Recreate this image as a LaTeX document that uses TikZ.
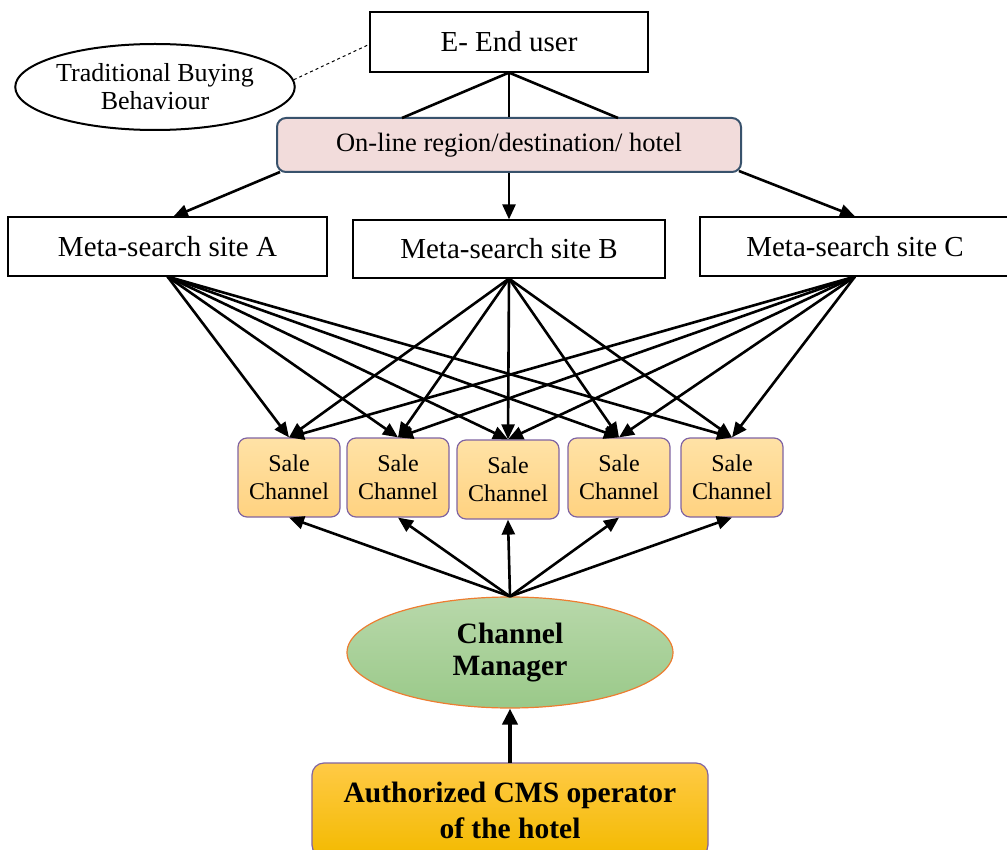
\documentclass[tikz,border=0pt]{standalone}
\usepackage{fontspec}
\setmainfont{Liberation Serif}
\usetikzlibrary{arrows.meta,shapes.geometric}
\definecolor{pinkfill}{RGB}{242,220,219}
\definecolor{pinkdraw}{RGB}{56,82,108}
\definecolor{salefillT}{RGB}{255,226,166}
\definecolor{salefillB}{RGB}{255,210,128}
\definecolor{purpledraw}{RGB}{128,100,162}
\definecolor{cmT}{RGB}{184,216,170}
\definecolor{cmB}{RGB}{154,201,137}
\definecolor{cmdraw}{RGB}{237,125,49}
\definecolor{auT}{RGB}{255,202,70}
\definecolor{auB}{RGB}{243,186,0}
\tikzset{
  plainbox/.style={draw=black,line width=1.2pt,fill=white,inner sep=0pt,align=center},
  salebox/.style={draw=purpledraw,line width=1.2pt,rounded corners=9pt,top color=salefillT,bottom color=salefillB,
    minimum width=102pt,minimum height=79pt,inner sep=0pt,align=center,font=\fontsize{24}{28}\selectfont},
  conn/.style={line width=2.6pt,-{Triangle[length=15pt,width=13pt]}},
  link/.style={line width=2.6pt},
}
\begin{document}
\begin{tikzpicture}[x=1pt,y=-1pt]
\useasboundingbox (0,0) rectangle (1007,850);
% top
\node[plainbox,minimum width=278pt,minimum height=60pt,font=\fontsize{29}{33}\selectfont] (eu) at (509,42) {E- End user};
\node[draw=black,line width=2pt,ellipse,minimum width=270pt,minimum height=86pt,inner sep=0pt,align=center,
  font=\fontsize{26}{28}\selectfont] (tb) at (155,87) {Traditional Buying\\Behaviour};
\coordinate (euW) at (370,44);
\draw[line width=1pt,dashed] (tb.3) -- (euW);
\node[draw=pinkdraw,line width=2pt,rounded corners=9pt,fill=pinkfill,minimum width=464pt,minimum height=54pt,inner sep=0pt,
  font=\fontsize{26.5}{30}\selectfont] (ol) at (509,145) {On-line region/destination/ hotel};
\coordinate (olL) at (402,118);
\coordinate (olR) at (618,118);
\draw[link] (eu.south) -- (olL);
\draw[link] (eu.south) -- (ol.north);
\draw[link] (eu.south) -- (olR);
% meta
\node[plainbox,minimum width=319pt,minimum height=59pt,font=\fontsize{29}{33}\selectfont] (ma) at (167.5,246.5) {Meta-search site A};
\node[plainbox,minimum width=312pt,minimum height=58pt,font=\fontsize{29}{33}\selectfont] (mb) at (509,249) {Meta-search site B};
\node[plainbox,minimum width=310pt,minimum height=59pt,font=\fontsize{29}{33}\selectfont] (mc) at (855,246.5) {Meta-search site C};
\coordinate (olA) at (280,172);
\coordinate (olC) at (739,171);
\coordinate (maT) at (173,217);
\draw[conn] (olA) -- (maT);
\draw[conn] (ol.south) -- (mb.north);
\draw[conn] (olC) -- (mc.north);
% sale channels
\node[salebox] (s1) at (289,477.5) {Sale\\Channel};
\node[salebox] (s2) at (398,477.5) {Sale\\Channel};
\node[salebox] (s3) at (508,479.5) {Sale\\Channel};
\node[salebox] (s4) at (619,477.5) {Sale\\Channel};
\node[salebox] (s5) at (732,477.5) {Sale\\Channel};
\foreach \m in {ma,mb,mc}{
  \foreach \s in {s1,s2,s3,s4,s5}{
    \draw[conn] (\m.south) -- (\s.north);
  }
}
% channel manager
\node[ellipse,draw=cmdraw,line width=1.2pt,top color=cmT,bottom color=cmB,minimum width=326pt,minimum height=111pt,
  inner sep=0pt,align=center,font=\bfseries\fontsize{29.5}{32}\selectfont] (cm) at (510,652.5) {Channel\\Manager};
\foreach \s in {s1,s2,s3,s4,s5}{
  \draw[conn] (cm.north) -- (\s.south);
}
% authorized
\node[draw=purpledraw,line width=1.2pt,rounded corners=12pt,top color=auT,bottom color=auB,minimum width=396pt,minimum height=94pt,
  inner sep=0pt,align=center,font=\bfseries\fontsize{29.5}{36}\selectfont] (au) at (510,810) {Authorized CMS operator\\of the hotel};
\draw[line width=4pt,-{Triangle[length=16pt,width=15pt]}] (au.north |- 0,763) -- (cm.south);
\end{tikzpicture}
\end{document}
